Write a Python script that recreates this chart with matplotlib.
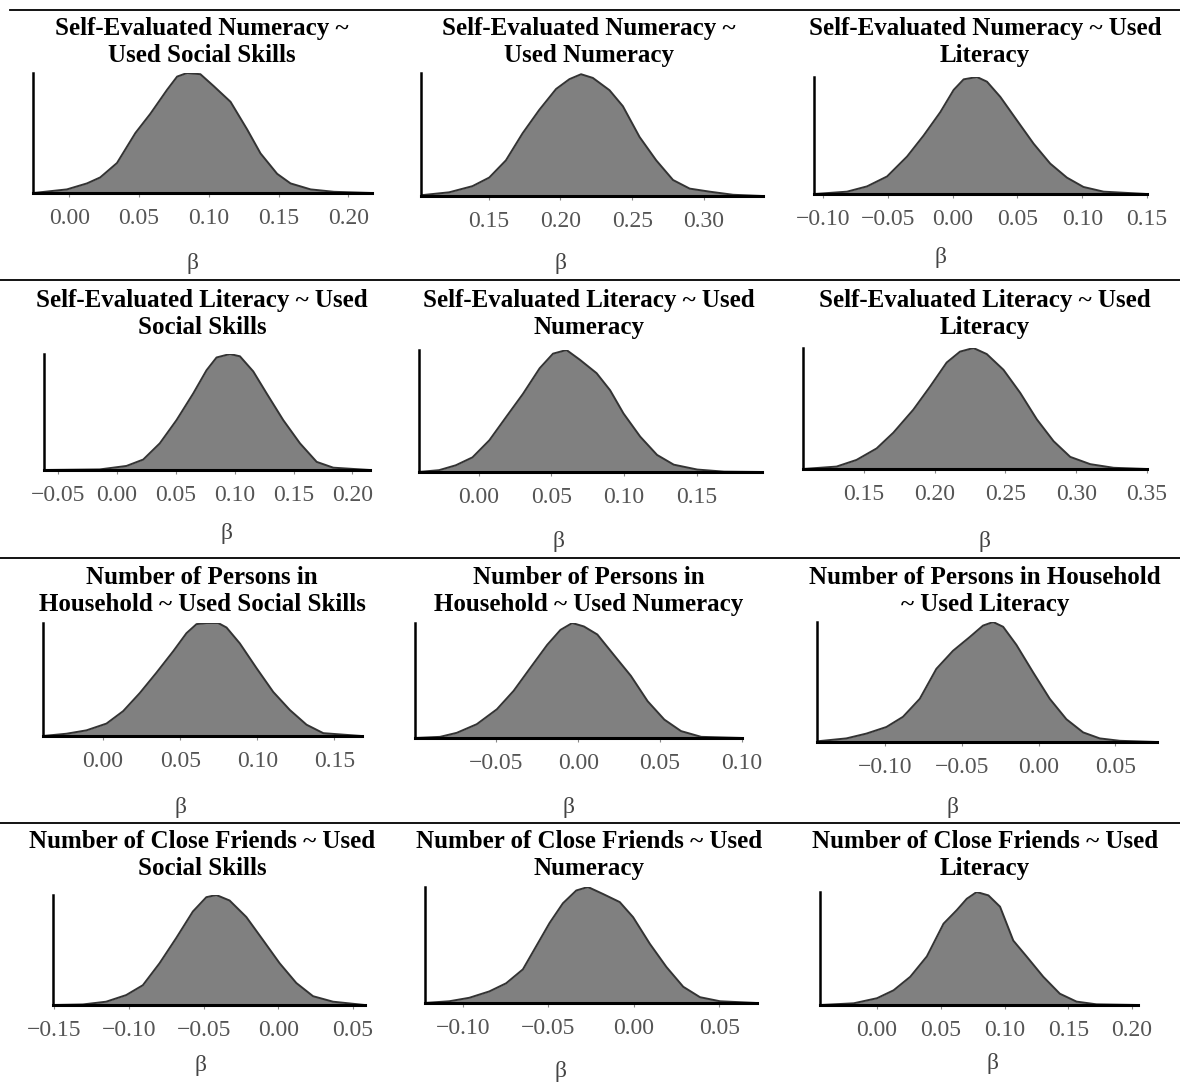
import matplotlib
matplotlib.use("Agg")
import matplotlib.pyplot as plt
import numpy as np

FIG_W = 1180
FIG_H = 1083

FILL_RGB = '#808080'
EDGE_RGB = '#333333'
TICK_RGB = '#555555'
SERIF = ['Liberation Serif', 'DejaVu Serif']

plt.rcParams['axes.unicode_minus'] = True

titles = [
    "Self-Evaluated Numeracy ~\nUsed Social Skills",
    "Self-Evaluated Numeracy ~\nUsed Numeracy",
    "Self-Evaluated Numeracy ~ Used\nLiteracy",
    "Self-Evaluated Literacy ~ Used\nSocial Skills",
    "Self-Evaluated Literacy ~ Used\nNumeracy",
    "Self-Evaluated Literacy ~ Used\nLiteracy",
    "Number of Persons in\nHousehold ~ Used Social Skills",
    "Number of Persons in\nHousehold ~ Used Numeracy",
    "Number of Persons in Household\n~ Used Literacy",
    "Number of Close Friends ~ Used\nSocial Skills",
    "Number of Close Friends ~ Used\nNumeracy",
    "Number of Close Friends ~ Used\nLiteracy",
]

# posterior densities (beta, height relative to peak)
sen_soc_x = [-0.0256, -0.0017, 0.0127, 0.0222, 0.0342, 0.0474, 0.0581, 0.0701, 0.0773, 0.0844,
             0.094, 0.1036, 0.1156, 0.1275, 0.1371, 0.149, 0.1586, 0.173, 0.1897, 0.217]
sen_soc_y = [0.0, 0.03, 0.08, 0.13, 0.25, 0.50, 0.66, 0.86, 0.97, 1.0,
             0.99, 0.89, 0.76, 0.53, 0.33, 0.16, 0.08, 0.03, 0.01, 0.0]

sen_num_x = [0.1021, 0.1226, 0.1388, 0.1505, 0.1621, 0.1737, 0.1853, 0.197, 0.2063, 0.2144,
             0.2226, 0.2342, 0.2435, 0.2551, 0.2667, 0.2784, 0.29, 0.304, 0.3202, 0.3407]
sen_num_y = [0.005, 0.03, 0.08, 0.15, 0.29, 0.51, 0.70, 0.87, 0.95, 0.99,
             0.96, 0.86, 0.73, 0.48, 0.29, 0.13, 0.06, 0.035, 0.01, 0.0]

sen_lit_x = [-0.1064, -0.0815, -0.0661, -0.0506, -0.0352, -0.0224, -0.0095, 0.0008, 0.0085, 0.0188,
             0.0265, 0.0368, 0.0496, 0.0625, 0.0753, 0.0882, 0.101, 0.1165, 0.1499]
sen_lit_y = [0.0, 0.02, 0.065, 0.15, 0.32, 0.50, 0.70, 0.89, 0.98, 1.0,
             0.96, 0.83, 0.63, 0.43, 0.26, 0.14, 0.06, 0.02, 0.0]

sel_soc_x = [-0.0619, -0.0146, 0.0081, 0.0223, 0.0364, 0.0506, 0.0648, 0.0761, 0.0846, 0.096,
             0.1045, 0.1158, 0.1272, 0.1413, 0.1555, 0.1697, 0.1838, 0.215]
sel_soc_y = [0.0, 0.005, 0.035, 0.09, 0.23, 0.43, 0.66, 0.86, 0.97, 1.0,
             0.98, 0.85, 0.66, 0.43, 0.23, 0.07, 0.02, 0.0]

sel_num_x = [-0.0415, -0.0272, -0.0157, -0.0042, 0.0074, 0.0189, 0.0305, 0.042, 0.0512, 0.0605,
             0.0697, 0.0812, 0.0905, 0.0997, 0.1112, 0.1228, 0.1343, 0.1505, 0.1689, 0.1955]
sel_num_y = [0.0, 0.015, 0.055, 0.12, 0.26, 0.45, 0.64, 0.85, 0.97, 1.0,
             0.92, 0.81, 0.67, 0.48, 0.29, 0.14, 0.06, 0.02, 0.003, 0.0]

sel_lit_x = [0.1071, 0.1307, 0.1448, 0.159, 0.1708, 0.1849, 0.1967, 0.2085, 0.2179, 0.2274,
             0.2368, 0.2486, 0.2604, 0.2722, 0.284, 0.2958, 0.3099, 0.3264, 0.35]
sel_lit_y = [0.0, 0.02, 0.075, 0.17, 0.30, 0.49, 0.68, 0.88, 0.97, 1.0,
             0.95, 0.82, 0.63, 0.41, 0.23, 0.10, 0.04, 0.01, 0.0]

hh_soc_x = [-0.039, -0.0238, -0.0108, 0.0022, 0.013, 0.0238, 0.0346, 0.0455, 0.0541, 0.0606,
            0.0671, 0.0747, 0.0801, 0.0887, 0.0996, 0.1104, 0.1212, 0.132, 0.1429, 0.1677]
hh_soc_y = [0.0, 0.02, 0.05, 0.11, 0.22, 0.38, 0.56, 0.75, 0.91, 0.99,
            1.0, 1.0, 0.96, 0.82, 0.60, 0.39, 0.23, 0.10, 0.025, 0.0]

hh_num_x = [-0.0997, -0.0843, -0.0741, -0.0619, -0.0496, -0.0394, -0.0292, -0.0189, -0.0108, -0.0036,
            0.0035, 0.0117, 0.0219, 0.0322, 0.0424, 0.0526, 0.0628, 0.0751, 0.1006]
hh_num_y = [0.0, 0.01, 0.045, 0.12, 0.25, 0.41, 0.61, 0.81, 0.94, 1.0,
            0.97, 0.90, 0.72, 0.54, 0.32, 0.16, 0.06, 0.01, 0.0]

hh_lit_x = [-0.1444, -0.1249, -0.1119, -0.0989, -0.0881, -0.0772, -0.0664, -0.0556, -0.0447, -0.0361,
            -0.0295, -0.023, -0.0144, -0.0035, 0.0073, 0.0181, 0.029, 0.0398, 0.0528, 0.0767]
hh_lit_y = [0.005, 0.03, 0.07, 0.125, 0.21, 0.36, 0.61, 0.76, 0.875, 0.97,
            1.0, 0.96, 0.81, 0.58, 0.36, 0.19, 0.08, 0.03, 0.01, 0.0]

cf_soc_x = [-0.1511, -0.131, -0.1154, -0.102, -0.0908, -0.0796, -0.0684, -0.0573, -0.0483, -0.0416,
            -0.0327, -0.0215, -0.0103, 0.0008, 0.012, 0.0232, 0.0366, 0.0578]
cf_soc_y = [0.0, 0.005, 0.03, 0.09, 0.18, 0.38, 0.61, 0.85, 0.98, 1.0,
            0.95, 0.80, 0.59, 0.38, 0.20, 0.08, 0.03, 0.0]

cf_num_x = [-0.1225, -0.1078, -0.0961, -0.0844, -0.0746, -0.0648, -0.057, -0.0492, -0.0414, -0.0336,
            -0.0268, -0.018, -0.0082, -0.0004, 0.0094, 0.0191, 0.0289, 0.0387, 0.0504, 0.0719]
cf_num_y = [0.0, 0.015, 0.045, 0.10, 0.17, 0.29, 0.49, 0.69, 0.86, 0.97,
            1.0, 0.94, 0.87, 0.74, 0.51, 0.31, 0.14, 0.05, 0.015, 0.0]

cf_lit_x = [-0.0443, -0.0183, 0.0, 0.013, 0.0261, 0.0391, 0.0522, 0.0626, 0.0704, 0.0782,
            0.0874, 0.0965, 0.1069, 0.1173, 0.1304, 0.1434, 0.1565, 0.1721, 0.2047]
cf_lit_y = [0.0, 0.015, 0.06, 0.13, 0.25, 0.43, 0.72, 0.84, 0.94, 1.0,
            0.97, 0.87, 0.57, 0.43, 0.25, 0.10, 0.03, 0.006, 0.0]

curves_x = [sen_soc_x, sen_num_x, sen_lit_x, sel_soc_x, sel_num_x, sel_lit_x,
            hh_soc_x, hh_num_x, hh_lit_x, cf_soc_x, cf_num_x, cf_lit_x]
curves_y = [sen_soc_y, sen_num_y, sen_lit_y, sel_soc_y, sel_num_y, sel_lit_y,
            hh_soc_y, hh_num_y, hh_lit_y, cf_soc_y, cf_num_y, cf_lit_y]

x_limits = [(-0.026, 0.217), (0.103, 0.341), (-0.107, 0.15),
            (-0.062, 0.215), (-0.041, 0.195), (0.107, 0.35),
            (-0.039, 0.168), (-0.0996, 0.10), (-0.144, 0.077),
            (-0.151, 0.058), (-0.122, 0.072), (-0.0447, 0.2047)]

x_ticks = [[0.00, 0.05, 0.10, 0.15, 0.20], [0.15, 0.20, 0.25, 0.30],
           [-0.10, -0.05, 0.00, 0.05, 0.10, 0.15],
           [-0.05, 0.00, 0.05, 0.10, 0.15, 0.20], [0.00, 0.05, 0.10, 0.15],
           [0.15, 0.20, 0.25, 0.30, 0.35],
           [0.00, 0.05, 0.10, 0.15], [-0.05, 0.00, 0.05, 0.10],
           [-0.10, -0.05, 0.00, 0.05],
           [-0.15, -0.10, -0.05, 0.00, 0.05], [-0.10, -0.05, 0.00, 0.05],
           [0.00, 0.05, 0.10, 0.15, 0.20]]

# axes boxes in pixels: left, right, top, bottom
boxes = [(33, 372, 73, 193), (421, 763, 73, 196), (814, 1147, 77, 194),
         (44, 370, 354, 470), (419, 762, 350, 472), (803, 1147, 348, 469),
         (43, 362, 623, 736), (415, 742, 623, 738), (817, 1157, 622, 742),
         (53, 365, 895, 1005), (425, 757, 887, 1003), (820, 1138, 892, 1005)]

beta_pos = [(193, 263), (560, 263), (940, 258),
            (227, 533), (558, 542), (985, 542),
            (180, 808), (568, 807), (953, 808),
            (200, 1065), (560, 1072), (993, 1063)]

title_x = [202, 589, 985]
title_y = [42, 314, 591, 855]
separators_y = [10, 280, 558, 823]


def px_rect(box):
    left, right, top, bottom = box
    return [left / FIG_W, 1 - bottom / FIG_H, (right - left) / FIG_W, (bottom - top) / FIG_H]


figure = plt.figure(figsize=(FIG_W / 100, FIG_H / 100), dpi=100, facecolor='white')

for i in range(12):
    axes = figure.add_axes(px_rect(boxes[i]))
    axes.fill_between(curves_x[i], curves_y[i], 0, color=FILL_RGB, linewidth=0)
    axes.plot(curves_x[i], curves_y[i], color=EDGE_RGB, linewidth=1.4)
    axes.set_xlim(*x_limits[i])
    axes.set_ylim(0, 1.0)
    axes.set_xticks(x_ticks[i])
    axes.set_xticklabels([f"{t:.2f}".replace('-', '\u2212') for t in x_ticks[i]],
                         fontfamily=SERIF, fontsize=17, color=TICK_RGB)
    axes.set_yticks([])
    axes.tick_params(axis='x', length=3, width=0.8, color='#888888', pad=8)
    for side in ('top', 'right'):
        axes.spines[side].set_visible(False)
    axes.spines['left'].set_linewidth(1.8)
    axes.spines['bottom'].set_linewidth(2.2)
    axes.patch.set_alpha(0)

    col = i % 3
    row = i // 3
    figure.text(title_x[col] / FIG_W, 1 - title_y[row] / FIG_H, titles[i],
                ha='center', va='center', fontfamily=SERIF, fontweight='bold',
                fontsize=18, linespacing=1.25)
    bx, by = beta_pos[i]
    figure.text(bx / FIG_W, 1 - by / FIG_H, "\u03b2", ha='center', va='center',
                fontfamily=SERIF, fontsize=17, color='#444444')

for k, y in enumerate(separators_y):
    x0 = 10 if k == 0 else 0
    figure.add_artist(plt.Line2D([x0 / FIG_W, 1], [1 - y / FIG_H, 1 - y / FIG_H],
                                 color='black', linewidth=1.3, transform=figure.transFigure))

figure.savefig('out.png', dpi=100, facecolor='white')
